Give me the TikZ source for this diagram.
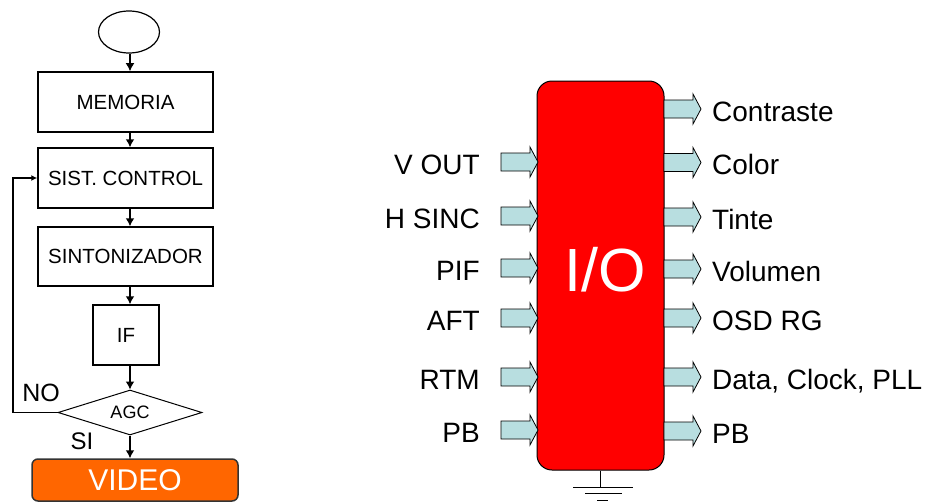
\documentclass[tikz,border=0pt]{standalone}
\usepackage{fontspec}
\setmainfont{Liberation Sans}
\usetikzlibrary{shapes.geometric,arrows.meta}
\definecolor{chipred}{RGB}{255,0,0}
\definecolor{vidorange}{RGB}{255,102,0}
\definecolor{ice}{RGB}{184,222,224}
\begin{document}
\begin{tikzpicture}[x=1pt,y=-1pt,
 fbox/.style={draw,line width=1.5pt,minimum width=175pt,minimum height=60pt,inner sep=0pt,font=\fontsize{20.5}{20.5}\selectfont},
 flow/.style={line width=2pt,-{Latex[length=8pt,width=9pt]}},
 lbl/.style={font=\fontsize{28}{28}\selectfont,inner sep=0pt},
 barrow/.pic={\draw[fill=ice,line width=0.8pt] (0,-9)--(29,-9)--(29,-15)--(37,0)--(29,15)--(29,9)--(0,9)--cycle;}
]
\useasboundingbox (0,0) rectangle (942,503);
% ---------- flowchart ----------
\coordinate (ax) at (130,0);
\node[draw,ellipse,line width=1.2pt,minimum width=61pt,minimum height=42pt,inner sep=0pt] (start) at (129,32) {};
\node[fbox] (mem) at (125.5,102) {MEMORIA};
\node[fbox] (sist) at (125.5,178) {SIST. CONTROL};
\node[fbox,minimum height=59pt] (sint) at (125.5,256.5) {SINTONIZADOR};
\node[fbox,minimum width=66pt] (if) at (126,335) {IF};
\node[draw,diamond,aspect=3.2,line width=1pt,minimum width=144pt,minimum height=45pt,inner sep=0pt,font=\fontsize{18}{18}\selectfont] (agc) at (130,412.5) {AGC};
\node[draw=black!80,line width=1.5pt,fill=vidorange,rounded corners=6pt,minimum width=206pt,minimum height=42pt,inner sep=0pt,text=white,font=\fontsize{30}{30}\selectfont] (video) at (135,480) {VIDEO};
\node[inner sep=0pt,font=\fontsize{25}{25}\selectfont] (no) at (41,393) {NO};
\node[inner sep=0pt,font=\fontsize{24}{24}\selectfont] (si) at (82,441) {SI};
\draw[flow] (start.south -| ax) -- (mem.north -| ax);
\draw[flow] (mem.south -| ax) -- (sist.north -| ax);
\draw[flow] (sist.south -| ax) -- (sint.north -| ax);
\draw[flow] (sint.south -| ax) -- (if.north -| ax);
\draw[flow] (if.south -| ax) -- (agc.north);
\draw[flow] (agc.south) -- (video.north -| agc.south);
\coordinate (fbx) at (13,0);
\draw[line width=1.3pt,-{Latex[length=6pt,width=6pt]}] (agc.west) -- (agc.west -| fbx) -- (sist.west -| fbx) -- (sist.west);
% ---------- chip ----------
\node[draw,line width=1pt,fill=chipred,rounded corners=15pt,minimum width=127pt,minimum height=389pt,inner sep=0pt] (chip) at (600.5,275.5) {};
\node[text=white,inner sep=0pt,font=\fontsize{61}{61}\selectfont] (io) at (605,270) {I/O};
\coordinate (g1) at (600.5,487);
\draw[line width=1pt] (chip.south) -- (g1);
\draw[line width=1pt] (573,487) -- (633,487);
\draw[line width=1pt] (585,493) -- (622,493);
\draw[line width=1pt] (597,500) -- (608,500);
% inputs
\foreach \y/\t/\n in {162/V OUT/a, 216/H SINC/b, 268/PIF/c, 318/AFT/d, 377/RTM/e, 430/PB/f}{
  \pic (in\n) at (501,\y) {barrow};
  \node[lbl,anchor=base east] (lin\n) at (480,\y+12) {\t};
}
% outputs
\foreach \y/\t/\n in {109/Contraste/a, 162.5/Color/b, 217/Tinte/c, 269/Volumen/d, 318/OSD RG/e, 377/{Data, Clock, PLL}/f, 431/PB/g}{
  \pic (out\n) at (664,\y) {barrow};
  \node[lbl,anchor=base west] (lout\n) at (712,\y+12) {\t};
}
\end{tikzpicture}
\end{document}
